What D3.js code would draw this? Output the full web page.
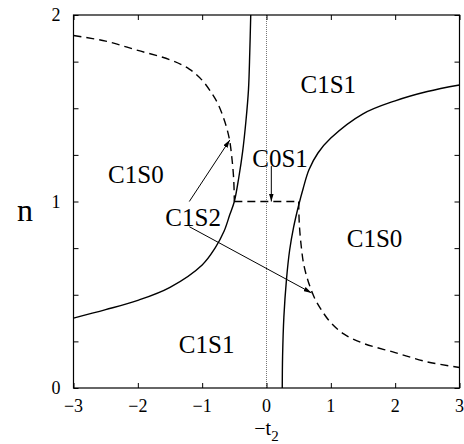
<!DOCTYPE html>
<html>
<head>
<meta charset="utf-8">
<script src="https://cdn.jsdelivr.net/npm/d3@7/dist/d3.min.js"></script>
<style>
  html, body { margin: 0; padding: 0; background: #fff; }
  svg text { font-family: "Liberation Serif", "DejaVu Serif", serif; }
</style>
</head>
<body>
<div id="chart"></div>
<script>
// phase boundaries: [-t2, n]
const solidLeft = [[-3, 0.375], [-2.5, 0.42], [-2, 0.47], [-1.5, 0.54], [-1.0, 0.66], [-0.8, 0.75],
  [-0.66, 0.84], [-0.57, 0.93], [-0.5, 1.0], [-0.43, 1.13], [-0.37, 1.27], [-0.32, 1.43],
  [-0.28, 1.6], [-0.26, 1.8], [-0.245, 2.0]];
const solidRight = [[0.245, 0], [0.25, 0.17], [0.27, 0.38], [0.31, 0.58], [0.36, 0.74], [0.42, 0.86],
  [0.5, 0.98], [0.57, 1.07], [0.66, 1.17], [0.8, 1.26], [1.0, 1.34], [1.5, 1.47], [2.0, 1.54],
  [2.5, 1.59], [3.0, 1.625]];
const dashedLeft = [[-3, 1.89], [-2.5, 1.86], [-2, 1.81], [-1.5, 1.76], [-1.2, 1.71], [-1.0, 1.65],
  [-0.85, 1.58], [-0.75, 1.52], [-0.65, 1.43], [-0.58, 1.34], [-0.54, 1.24], [-0.51, 1.12], [-0.5, 1.0]];
const dashedMiddle = [[-0.5, 1.0], [0.5, 1.0]];
const dashedRight = [[0.5, 1.0], [0.51, 0.88], [0.54, 0.76], [0.58, 0.66], [0.65, 0.57], [0.75, 0.48],
  [0.85, 0.42], [1.0, 0.35], [1.2, 0.29], [1.5, 0.24], [2.0, 0.19], [2.5, 0.14], [3.0, 0.11]];

const regionLabels = [
  { text: "C1S0", x: -2.03, n: 1.10 },
  { text: "C1S1", x: 0.96, n: 1.58 },
  { text: "C0S1", x: 0.21, n: 1.185 },
  { text: "C1S0", x: 1.68, n: 0.755 },
  { text: "C1S1", x: -0.93, n: 0.187 },
  { text: "C1S2", x: -1.14, n: 0.87 }
];
// arrows: [from, to]
const arrows = [
  [[-1.20, 1.0], [-0.57, 1.33]],
  [[-1.20, 0.865], [0.70, 0.51]],
  [[0.075, 1.19], [0.075, 1.0]]
];

const xTicks = [-3, -2, -1, 0, 1, 2, 3];
const yTicks = [0, 0.25, 0.5, 0.75, 1, 1.25, 1.5, 1.75, 2];
const yLabels = [0, 1, 2];

const width = 464, height = 444;
const margin = { top: 15, right: 4.5, bottom: 56, left: 73.5 };
const iw = width - margin.left - margin.right,
  ih = height - margin.top - margin.bottom;

const svg = d3.select("#chart").append("svg")
  .attr("width", width)
  .attr("height", height)
  .attr("font-family", "'Liberation Serif', 'DejaVu Serif', serif");

const g = svg.append("g")
  .attr("transform", "translate(" + margin.left + "," + margin.top + ")");

const x = d3.scaleLinear().domain([-3, 3]).range([0, iw]);
const y = d3.scaleLinear().domain([0, 2]).range([ih, 0]);

// dotted line at -t2 = 0
g.append("line")
  .attr("x1", x(0)).attr("x2", x(0))
  .attr("y1", y(0)).attr("y2", y(2))
  .attr("stroke", "#777")
  .attr("stroke-width", 1)
  .attr("stroke-dasharray", "1,1");

// ticks pointing inward, on all four sides
function tickAxis(axis) {
  return function (sel) {
    sel.call(axis);
    sel.attr("font-family", null);
    sel.select(".domain").remove();
    sel.selectAll(".tick text").remove();
    sel.selectAll(".tick line").attr("stroke", "#000");
  };
}
g.append("g").attr("transform", "translate(0," + ih + ")")
  .call(tickAxis(d3.axisTop(x).tickValues(xTicks).tickSize(5)));
g.append("g")
  .call(tickAxis(d3.axisBottom(x).tickValues(xTicks).tickSize(5)));
g.append("g")
  .call(tickAxis(d3.axisRight(y).tickValues(yTicks).tickSize(5)));
g.append("g").attr("transform", "translate(" + iw + ",0)")
  .call(tickAxis(d3.axisLeft(y).tickValues(yTicks).tickSize(5)));

g.append("rect")
  .attr("width", iw).attr("height", ih)
  .attr("fill", "none")
  .attr("stroke", "#000")
  .attr("stroke-width", 1.2);

// tick labels
g.selectAll(".xl").data(xTicks).enter().append("text")
  .attr("x", d => x(d))
  .attr("y", ih + 24)
  .attr("text-anchor", "middle")
  .attr("font-size", 18)
  .text(d => d3.format("d")(d));

g.selectAll(".yl").data(yLabels).enter().append("text")
  .attr("x", -13)
  .attr("y", d => y(d) + 6)
  .attr("text-anchor", "end")
  .attr("font-size", 18)
  .text(d => d);

// axis titles
svg.append("text")
  .attr("x", 25).attr("y", 221)
  .attr("text-anchor", "middle")
  .attr("font-size", 32)
  .text("n");

const xt = svg.append("text")
  .attr("x", margin.left + x(0))
  .attr("y", 435)
  .attr("text-anchor", "middle")
  .attr("font-size", 20);
xt.append("tspan").text("−t");
xt.append("tspan").attr("dy", 6).attr("font-size", 15).text("2");

// curves
const lineX = d3.line().x(d => x(d[0])).y(d => y(d[1])).curve(d3.curveCatmullRom);

g.append("path").datum(solidLeft)
  .attr("fill", "none").attr("stroke", "#000").attr("stroke-width", 1.4)
  .attr("d", lineX);
g.append("path").datum(solidRight)
  .attr("fill", "none").attr("stroke", "#000").attr("stroke-width", 1.4)
  .attr("d", lineX);

[dashedLeft, dashedMiddle, dashedRight].forEach(function (pts) {
  g.append("path").datum(pts)
    .attr("fill", "none").attr("stroke", "#000").attr("stroke-width", 1.4)
    .attr("stroke-dasharray", "8,5")
    .attr("d", lineX);
});

// arrows
svg.append("defs").append("marker")
  .attr("id", "head")
  .attr("viewBox", "0 0 10 6")
  .attr("refX", 10).attr("refY", 3)
  .attr("markerWidth", 8).attr("markerHeight", 5)
  .attr("markerUnits", "userSpaceOnUse")
  .attr("orient", "auto")
  .append("path")
  .attr("d", "M0,0L10,3L0,6Z")
  .attr("fill", "#000");

g.selectAll(".arrow").data(arrows).enter().append("line")
  .attr("x1", d => x(d[0][0])).attr("y1", d => y(d[0][1]))
  .attr("x2", d => x(d[1][0])).attr("y2", d => y(d[1][1]))
  .attr("stroke", "#000")
  .attr("stroke-width", 1)
  .attr("marker-end", "url(#head)");

// region labels
g.selectAll(".rl").data(regionLabels).enter().append("text")
  .attr("x", d => x(d.x))
  .attr("y", d => y(d.n))
  .attr("text-anchor", "middle")
  .attr("font-size", 25)
  .text(d => d.text);
</script>
</body>
</html>
